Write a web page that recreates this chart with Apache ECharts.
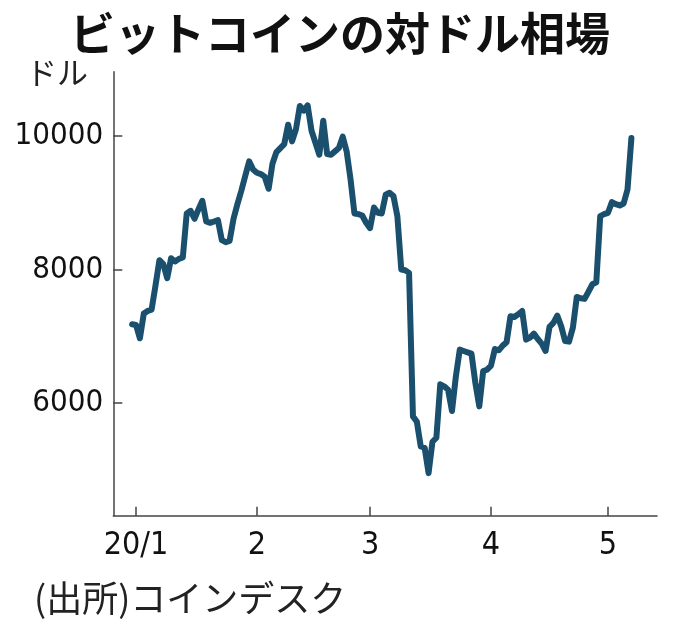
<!DOCTYPE html>
<html>
<head>
<meta charset="utf-8">
<script src="https://cdn.jsdelivr.net/npm/echarts@6/dist/echarts.min.js"></script>
<style>
html,body{margin:0;padding:0;background:#fff;}
#c{width:680px;height:633px;}
</style>
</head>
<body>
<div id="c"></div>
<script>
// ---- data ----
const dates = [
 '2019-12-31','2020-01-01','2020-01-02','2020-01-03','2020-01-04','2020-01-05','2020-01-06','2020-01-07','2020-01-08','2020-01-09','2020-01-10',
 '2020-01-11','2020-01-12','2020-01-13','2020-01-14','2020-01-15','2020-01-16','2020-01-17','2020-01-18','2020-01-19','2020-01-20',
 '2020-01-21','2020-01-22','2020-01-23','2020-01-24','2020-01-25','2020-01-26','2020-01-27','2020-01-28','2020-01-29','2020-01-30','2020-01-31',
 '2020-02-01','2020-02-02','2020-02-03','2020-02-04','2020-02-05','2020-02-06','2020-02-07','2020-02-08','2020-02-09','2020-02-10',
 '2020-02-11','2020-02-12','2020-02-13','2020-02-14','2020-02-15','2020-02-16','2020-02-17','2020-02-18','2020-02-19','2020-02-20',
 '2020-02-21','2020-02-22','2020-02-23','2020-02-24','2020-02-25','2020-02-26','2020-02-27','2020-02-28','2020-02-29',
 '2020-03-01','2020-03-02','2020-03-03','2020-03-04','2020-03-05','2020-03-06','2020-03-07','2020-03-08','2020-03-09','2020-03-10',
 '2020-03-11','2020-03-12','2020-03-13','2020-03-14','2020-03-15','2020-03-16','2020-03-17','2020-03-18','2020-03-19','2020-03-20',
 '2020-03-21','2020-03-22','2020-03-23','2020-03-24','2020-03-25','2020-03-26','2020-03-27','2020-03-28','2020-03-29','2020-03-30','2020-03-31',
 '2020-04-01','2020-04-02','2020-04-03','2020-04-04','2020-04-05','2020-04-06','2020-04-07','2020-04-08','2020-04-09','2020-04-10',
 '2020-04-11','2020-04-12','2020-04-13','2020-04-14','2020-04-15','2020-04-16','2020-04-17','2020-04-18','2020-04-19','2020-04-20',
 '2020-04-21','2020-04-22','2020-04-23','2020-04-24','2020-04-25','2020-04-26','2020-04-27','2020-04-28','2020-04-29','2020-04-30',
 '2020-05-01','2020-05-02','2020-05-03','2020-05-04','2020-05-05','2020-05-06','2020-05-07'
];
const prices = [
 7180,7170,6970,7340,7380,7400,7760,8140,8080,7870,8170,
 8120,8160,8180,8840,8880,8760,8900,9030,8720,8700,
 8720,8740,8440,8410,8430,8760,8980,9180,9400,9620,9500,
 9450,9430,9390,9210,9590,9760,9820,9880,10170,9920,
 10100,10450,10380,10460,10080,9900,9720,10230,9730,9720,
 9770,9820,9990,9770,9350,8840,8830,8810,8700,
 8620,8930,8850,8840,9120,9150,9100,8800,8000,7990,
 7950,5800,5720,5350,5330,4950,5420,5480,6280,6250,
 6200,5880,6400,6800,6780,6760,6740,6300,5950,6480,6500,
 6560,6810,6790,6860,6910,7300,7290,7330,7380,6950,
 6980,7040,6960,6890,6780,7140,7200,7310,7150,6930,
 6920,7130,7590,7570,7560,7670,7780,7810,8800,8830,
 8850,9010,8980,8960,8990,9200,9970
];
const yTicks = [6000, 8000, 10000];
const xTickDates = ['2020-01-01','2020-02-01','2020-03-01','2020-04-01','2020-05-01'];
const xTickLabels = ['20/1','2','3','4','5'];

const titleText = 'ビットコインの対ドル相場';
const unitText = 'ドル';
const sourceText = '(出所)コインデスク';

// ---- build ----
function ts(s){ const p = s.split('-').map(Number); return Date.UTC(p[0], p[1]-1, p[2]); }
const DAY = 86400000;
const seriesData = dates.map((d,i)=>[ts(d), prices[i]]);
const xTickTs = xTickDates.map(ts);
const labelMap = {};
xTickTs.forEach((t,i)=>{ labelMap[t] = xTickLabels[i]; });

const numFont = '"Liberation Sans Narrow","DejaVu Sans Condensed",sans-serif';
const jpFont = '"Noto Sans CJK JP",sans-serif';

const chart = echarts.init(document.getElementById('c'), null, {renderer:'canvas'});
chart.setOption({
  animation:false,
  backgroundColor:'#ffffff',
  title:{
    text:titleText, left:'center', top:6,
    textStyle:{fontFamily:jpFont, fontWeight:'bold', fontSize:45, color:'#111'}
  },
  graphic:[
    {type:'text', left:26, top:57, style:{text:unitText, font:'31px '+jpFont, fill:'#222'}},
    {type:'text', left:34, top:580, style:{text:sourceText, font:'36px '+jpFont, fill:'#222'}}
  ],
  grid:{left:113.3, right:23, top:71.7, bottom:117.3, containLabel:false, outerBoundsMode:'none'},
  xAxis:{
    type:'value',
    min: ts('2020-01-01') - 5.82*DAY,
    max: ts('2020-05-01') + 12.56*DAY,
    axisLine:{show:true, lineStyle:{color:'#444', width:1.5}},
    axisTick:{show:true, inside:true, length:9, customValues:xTickTs, lineStyle:{color:'#444', width:1.5}},
    axisLabel:{show:true, customValues:xTickTs, margin:14, fontFamily:numFont, fontSize:32, color:'#111',
      formatter:function(v){ return labelMap[v] !== undefined ? labelMap[v] : ''; }},
    splitLine:{show:false}
  },
  yAxis:{
    type:'value',
    min:4312, max:10964,
    axisLine:{show:true, lineStyle:{color:'#444', width:1.5}},
    axisTick:{show:true, inside:true, length:9, customValues:yTicks, lineStyle:{color:'#444', width:1.5}},
    axisLabel:{show:true, customValues:yTicks, margin:10, fontFamily:numFont, fontSize:31, color:'#111',
      formatter:function(v){ return String(v); }},
    splitLine:{show:false}
  },
  series:[{
    type:'line',
    data:seriesData,
    showSymbol:false,
    smooth:false,
    lineStyle:{color:'#1b4f6e', width:6, cap:'round', join:'round'}
  }]
});
</script>
</body>
</html>
